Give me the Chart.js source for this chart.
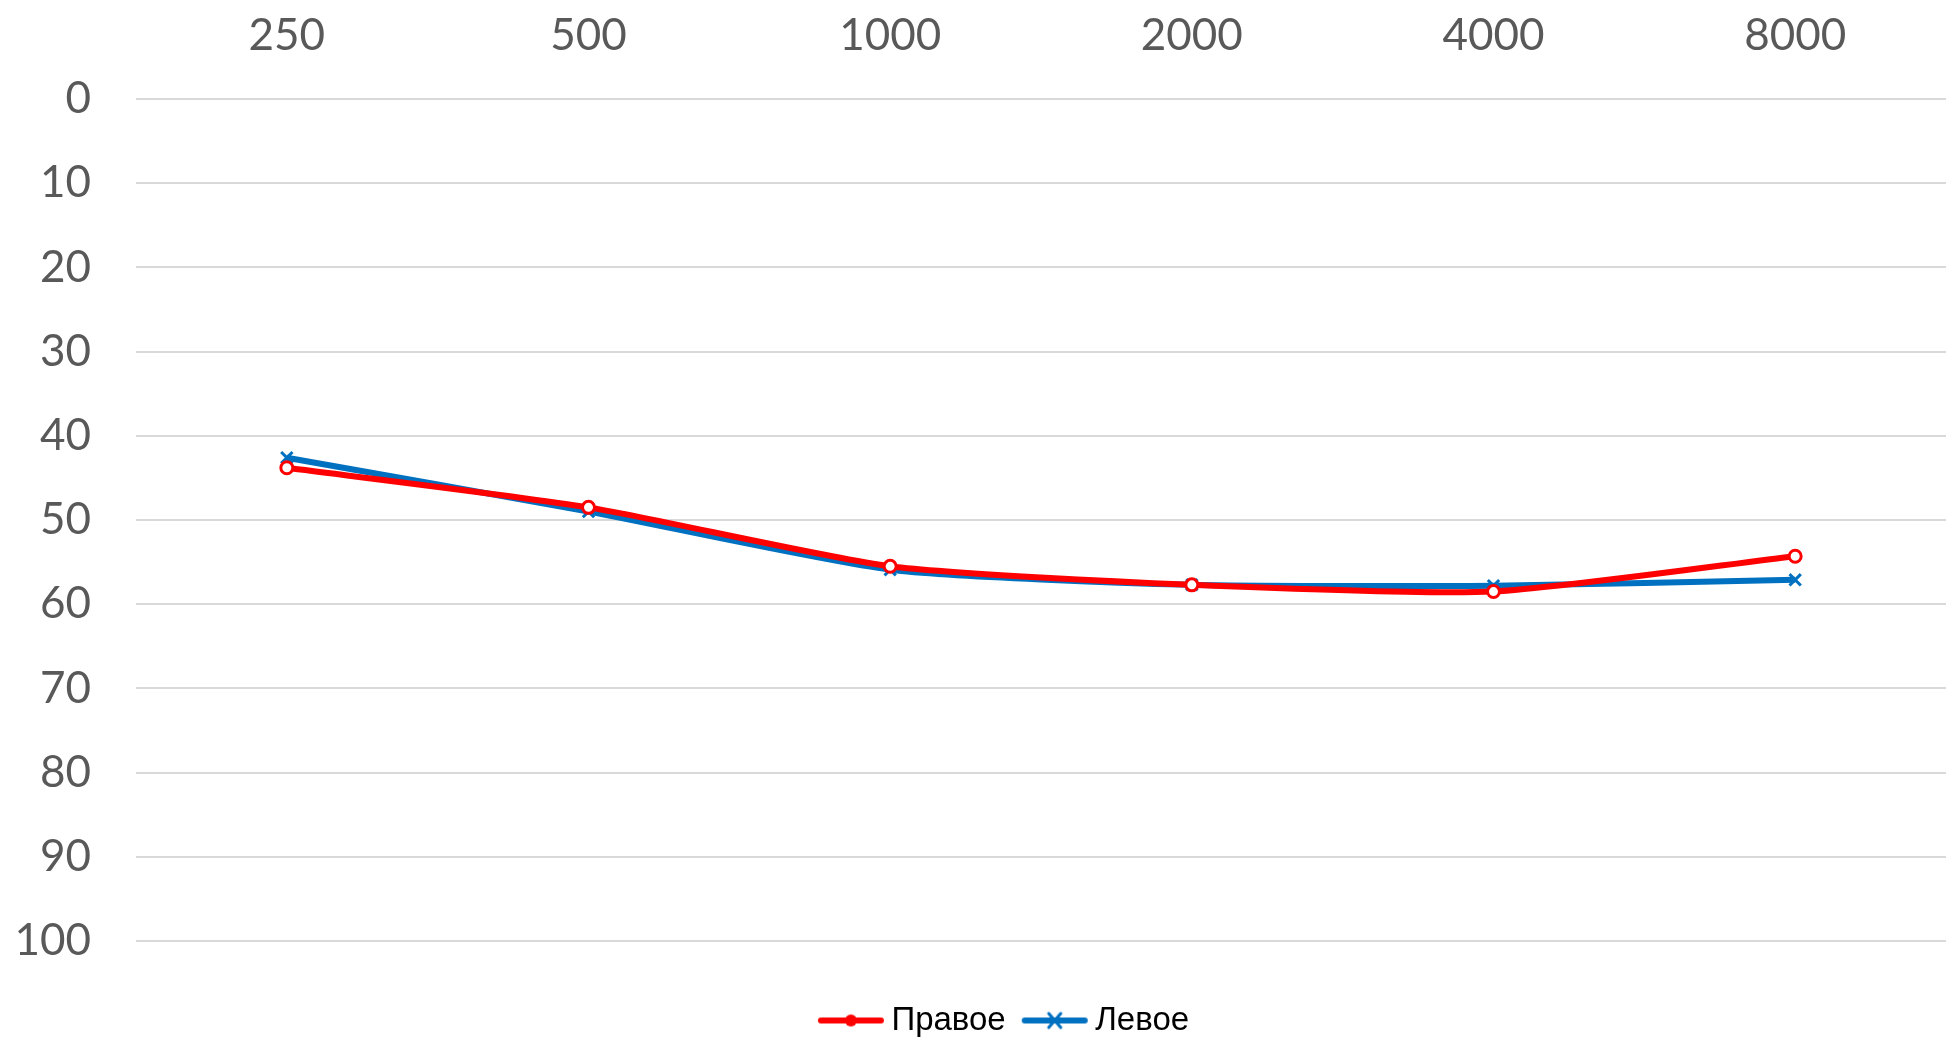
<!DOCTYPE html>
<html>
<head>
<meta charset="utf-8">
<script src="https://cdn.jsdelivr.net/npm/chart.js@4"></script>
<style>
  html, body { margin: 0; padding: 0; background: #fff; }
  #wrap { width: 1946px; height: 1038px; }
</style>
</head>
<body>
<div id="wrap"><canvas id="audioChart"></canvas></div>
<script>
const frequencies = ['250', '500', '1000', '2000', '4000', '8000'];
const rightEar = [43.8, 48.5, 55.5, 57.7, 58.5, 54.3];
const leftEar = [42.6, 49.0, 55.9, 57.7, 57.8, 57.1];

const RED = '#FF0000';
const BLUE = '#0070C0';
const tickFont = { family: 'Lato, "Open Sans", sans-serif', size: 44 };

// legend icon: short line with the series marker in the middle
// (image is wider than the legend box so the text sits close to it)
function legendIcon(color, style) {
    const c = document.createElement('canvas');
    c.width = 86; c.height = 20;
    const g = c.getContext('2d');
    g.translate(13, 0);
    g.strokeStyle = color;
    g.lineWidth = 6;
    g.lineCap = 'round';
    g.beginPath(); g.moveTo(3, 10); g.lineTo(63, 10); g.stroke();
    g.lineWidth = 3;
    if (style === 'circle') {
        g.fillStyle = color;
        g.beginPath(); g.arc(33, 10, 6, 0, Math.PI * 2); g.fill();
    } else {
        g.beginPath();
        g.moveTo(27, 3); g.lineTo(39, 17);
        g.moveTo(39, 3); g.lineTo(27, 17);
        g.stroke();
    }
    return c;
}

const legendShift = {
    id: 'legendShift',
    afterLayout(chart) {
        chart.legend.left += 32;
        chart.legend.right += 32;
    }
};

const ctx = document.getElementById('audioChart').getContext('2d');
new Chart(ctx, {
    type: 'line',
    data: {
        labels: frequencies,
        datasets: [{
            label: 'Правое',
            data: rightEar,
            borderColor: RED,
            backgroundColor: RED,
            borderWidth: 6,
            tension: 0.2,
            pointStyle: 'circle',
            pointRadius: 6,
            pointBorderWidth: 3,
            pointBackgroundColor: '#fff',
            pointBorderColor: RED
        }, {
            label: 'Левое',
            data: leftEar,
            borderColor: BLUE,
            backgroundColor: BLUE,
            borderWidth: 6,
            tension: 0.2,
            pointStyle: 'crossRot',
            pointRadius: 8,
            pointBorderWidth: 3,
            pointBorderColor: BLUE
        }]
    },
    plugins: [legendShift],
    options: {
        responsive: true,
        maintainAspectRatio: false,
        animation: false,
        layout: { autoPadding: false, padding: { left: 0, top: 0, right: 0, bottom: -9 } },
        plugins: {
            tooltip: { enabled: false },
            legend: {
                position: 'bottom',
                labels: {
                    usePointStyle: true,
                    pointStyleWidth: 54,
                    color: '#000',
                    padding: 19,
                    font: { family: '"Liberation Sans", Arial, sans-serif', size: 33 },
                    generateLabels(chart) {
                        return chart.data.datasets.map((ds, i) => ({
                            text: ds.label,
                            fillStyle: ds.borderColor,
                            strokeStyle: ds.borderColor,
                            fontColor: '#000',
                            pointStyle: legendIcon(ds.borderColor, ds.pointStyle),
                            datasetIndex: i,
                            hidden: false
                        }));
                    }
                }
            }
        },
        scales: {
            x: {
                position: 'top',
                offset: true,
                grid: { display: false },
                border: { display: false },
                ticks: { color: '#595959', padding: 29, font: tickFont },
                afterFit(scale) { scale.height = 99; }
            },
            // empty axis used only as a gap between plot and legend
            gap: {
                type: 'category',
                position: 'bottom',
                labels: frequencies,
                grid: { display: false },
                border: { display: false },
                ticks: { display: false },
                afterFit(scale) { scale.height = 44; }
            },
            y: {
                reverse: true,
                min: 0,
                max: 100,
                grid: { color: '#d9d9d9', lineWidth: 2, drawTicks: false },
                border: { display: false },
                ticks: { stepSize: 10, color: '#595959', padding: 45, font: tickFont },
                afterFit(scale) { scale.width = 136; }
            }
        }
    }
});
</script>
</body>
</html>
